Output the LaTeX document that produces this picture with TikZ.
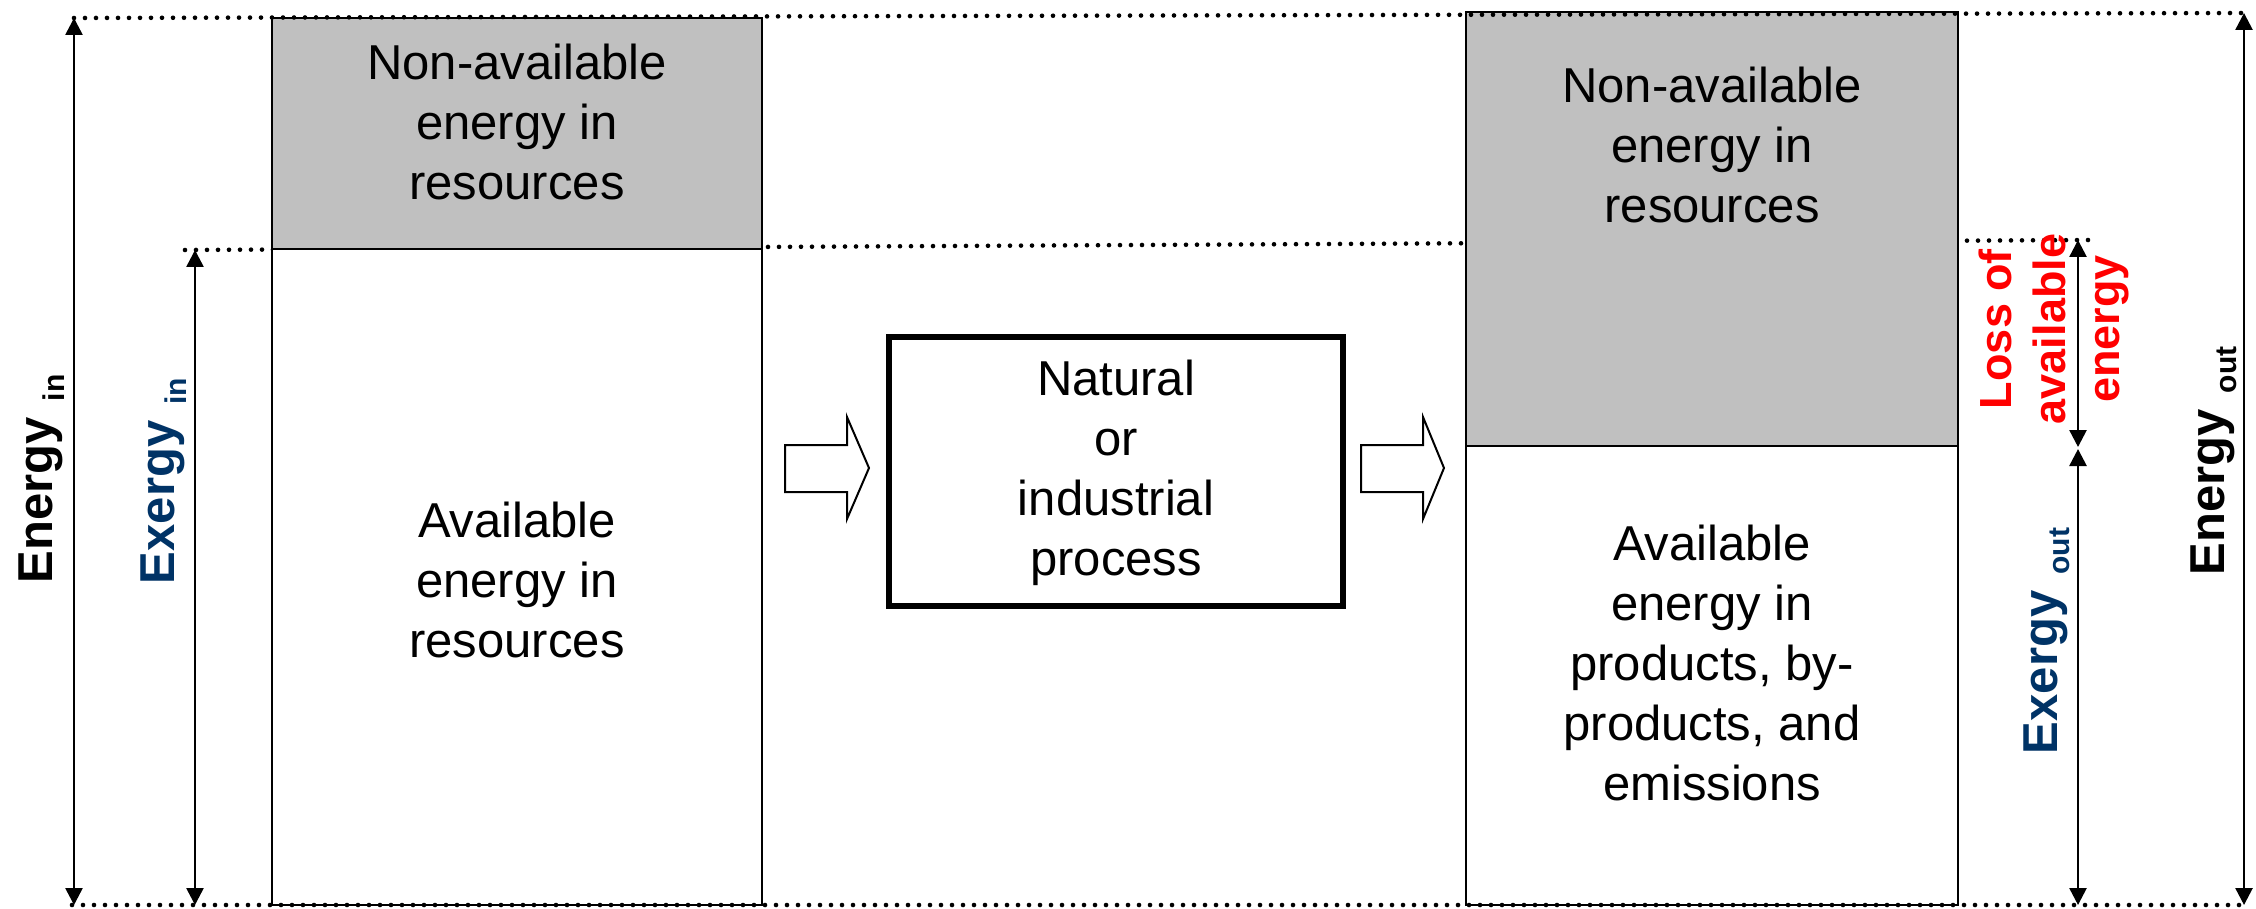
\documentclass[tikz,border=0pt]{standalone}
\usepackage{fontspec}
\setmainfont{Liberation Sans}
\usetikzlibrary{arrows.meta}
\definecolor{boxgray}{RGB}{192,192,192}
\definecolor{exblue}{RGB}{0,51,102}
\definecolor{lossred}{RGB}{255,0,0}
\begin{document}
\begin{tikzpicture}[x=1pt, y=-1pt,
  dotline/.style={line width=4.6pt, line cap=round, dash pattern=on 0pt off 11pt},
  panel/.style={draw=black, line width=2.8pt, inner sep=0pt, outer sep=0pt},
  dimarrow/.style={line width=2.6pt, {Triangle[width=17pt,length=17pt]}-{Triangle[width=17pt,length=17pt]}},
  body/.style={align=center, inner sep=0pt, font=\fontsize{49}{60}\selectfont},
  sidelabel/.style={rotate=90, inner sep=0pt, font=\fontsize{49}{54}\selectfont\bfseries},
  flow/.style={draw=black, line width=2pt, fill=white, line join=miter}]
\useasboundingbox (0,0) rectangle (2256,909);
\fill[white] (0,0) rectangle (2256,909);

% guide coordinates
\coordinate (topL) at (74,18);
\coordinate (topR) at (2244,13);
\coordinate (midL) at (185,250);
\coordinate (midR) at (2090,240);
\coordinate (botL) at (72,905);
\coordinate (botR) at (2246,905);

% middle dotted guide (behind the boxes)
\draw[dotline] (midL) -- (midR);

% panels
\node[panel, fill=boxgray, minimum width=490pt, minimum height=231pt] (lgray) at (517,133.5) {};
\node[panel, fill=white, minimum width=490pt, minimum height=656pt] (lwhite) at (517,577) {};
\node[panel, fill=boxgray, minimum width=492pt, minimum height=434pt] (rgray) at (1712,229) {};
\node[panel, fill=white, minimum width=492pt, minimum height=459pt] (rwhite) at (1712,675.5) {};
\node[draw=black, line width=6pt, minimum width=454pt, minimum height=269pt, inner sep=0pt] (proc) at (1116,471.5) {};

% top and bottom dotted guides
\draw[dotline] (topL) -- (topR);
\draw[dotline] (botL) -- (botR);

% texts
\node[body] (lgtext) at (517,122) {Non-available\\energy in\\resources};
\node[body] (lwtext) at (517,580) {Available\\energy in\\resources};
\node[body] (proctext) at (1116,473) {Natural\\or\\industrial\\process};
\node[body] (rgtext) at (1712,145) {Non-available\\energy in\\resources};
\node[body] (rwtext) at (1712,663) {Available\\energy in\\products, by-\\products, and\\emissions};

% block arrows
\draw[flow] (785,445) -- (847,445) -- (847,417) -- (869,468) -- (847,519) -- (847,492) -- (785,492) -- cycle;
\draw[flow] (1361,445) -- (1423,445) -- (1423,417) -- (1444,468) -- (1423,519) -- (1423,492) -- (1361,492) -- cycle;

% dimension arrows
\coordinate (einT) at (74,18);
\coordinate (einB) at (74,905);
\coordinate (xinT) at (195,250);
\coordinate (xinB) at (195,905);
\coordinate (lossT) at (2078,240);
\coordinate (lossB) at (2078,447);
\coordinate (xoutT) at (2078,449);
\coordinate (xoutB) at (2078,905);
\coordinate (eoutT) at (2244,13);
\coordinate (eoutB) at (2244,905);
\draw[dimarrow] (einT) -- (einB);
\draw[dimarrow] (xinT) -- (xinB);
\draw[dimarrow] (lossT) -- (lossB);
\draw[dimarrow] (xoutT) -- (xoutB);
\draw[dimarrow] (eoutT) -- (eoutB);

% side labels
\node[sidelabel] (einlab) at (41.5,479) {Energy\hspace{16pt}\raisebox{-12pt}{\fontsize{30}{30}\selectfont in}};
\node[sidelabel, text=exblue] (xinlab) at (163.5,481) {Exergy\hspace{16pt}\raisebox{-12pt}{\fontsize{30}{30}\selectfont in}};
\node[sidelabel] (eoutlab) at (2213.5,461) {Energy\hspace{16pt}\raisebox{-12pt}{\fontsize{30}{30}\selectfont out}};
\node[sidelabel, text=exblue] (xoutlab) at (2046.5,641) {Exergy\hspace{16pt}\raisebox{-12pt}{\fontsize{30}{30}\selectfont out}};
\node[sidelabel, text=lossred, align=center, font=\fontsize{45}{54}\selectfont\bfseries] (losslab) at (2054,329) {Loss of\\available\\energy};
\end{tikzpicture}
\end{document}
